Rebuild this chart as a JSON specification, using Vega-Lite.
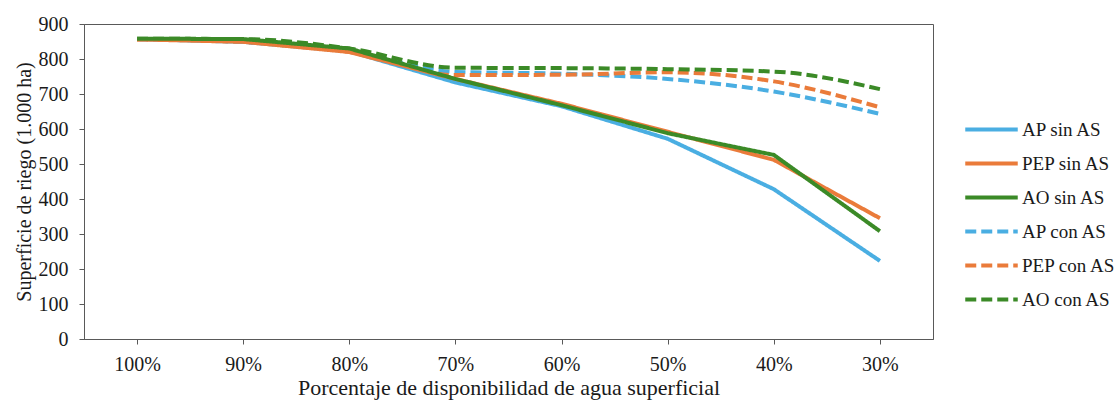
{
  "$schema": "https://vega.github.io/schema/vega-lite/v6.json",
  "width": 849,
  "height": 315,
  "autosize": {"type": "none"},
  "padding": {"left": 84, "top": 24, "right": 186, "bottom": 64},
  "background": "white",
  "config": {
    "font": "Liberation Serif",
    "view": {"stroke": "#595959", "strokeWidth": 1},
    "axis": {
      "labelFont": "Liberation Serif",
      "titleFont": "Liberation Serif",
      "labelFontSize": 20,
      "titleFontSize": 22,
      "titleFontWeight": "normal",
      "labelColor": "#1a1a1a",
      "titleColor": "#1a1a1a",
      "domainColor": "#595959",
      "tickColor": "#595959",
      "tickSize": 5,
      "grid": false
    },
    "legend": {
      "orient": "none",
      "legendX": 895,
      "legendY": 93,
      "padding": 0,
      "symbolType": "M-2.5,0H2.5",
      "symbolSize": 441,
      "symbolStrokeWidth": 4,
      "labelFont": "Liberation Serif",
      "labelFontSize": 19,
      "labelColor": "#1a1a1a",
      "labelOffset": 18,
      "rowPadding": 11,
      "labelLimit": 300
    }
  },
  "data": {
    "values": [
      {"serie": "AP sin AS", "disp": "100%", "sup": 857},
      {"serie": "AP sin AS", "disp": "90%", "sup": 849},
      {"serie": "AP sin AS", "disp": "80%", "sup": 822},
      {"serie": "AP sin AS", "disp": "70%", "sup": 733},
      {"serie": "AP sin AS", "disp": "60%", "sup": 665},
      {"serie": "AP sin AS", "disp": "50%", "sup": 572},
      {"serie": "AP sin AS", "disp": "40%", "sup": 428},
      {"serie": "AP sin AS", "disp": "30%", "sup": 223},
      {"serie": "PEP sin AS", "disp": "100%", "sup": 856},
      {"serie": "PEP sin AS", "disp": "90%", "sup": 849},
      {"serie": "PEP sin AS", "disp": "80%", "sup": 820},
      {"serie": "PEP sin AS", "disp": "70%", "sup": 743},
      {"serie": "PEP sin AS", "disp": "60%", "sup": 672},
      {"serie": "PEP sin AS", "disp": "50%", "sup": 592},
      {"serie": "PEP sin AS", "disp": "40%", "sup": 512},
      {"serie": "PEP sin AS", "disp": "30%", "sup": 345},
      {"serie": "AO sin AS", "disp": "100%", "sup": 858},
      {"serie": "AO sin AS", "disp": "90%", "sup": 857},
      {"serie": "AO sin AS", "disp": "80%", "sup": 830},
      {"serie": "AO sin AS", "disp": "70%", "sup": 743},
      {"serie": "AO sin AS", "disp": "60%", "sup": 668},
      {"serie": "AO sin AS", "disp": "50%", "sup": 588},
      {"serie": "AO sin AS", "disp": "40%", "sup": 526},
      {"serie": "AO sin AS", "disp": "30%", "sup": 308},
      {"serie": "AP con AS", "disp": "100%", "sup": 857},
      {"serie": "AP con AS", "disp": "90%", "sup": 849},
      {"serie": "AP con AS", "disp": "80%", "sup": 822},
      {"serie": "AP con AS", "disp": "70%", "sup": 763},
      {"serie": "AP con AS", "disp": "60%", "sup": 758},
      {"serie": "AP con AS", "disp": "50%", "sup": 743},
      {"serie": "AP con AS", "disp": "40%", "sup": 707},
      {"serie": "AP con AS", "disp": "30%", "sup": 643},
      {"serie": "PEP con AS", "disp": "100%", "sup": 856},
      {"serie": "PEP con AS", "disp": "90%", "sup": 849},
      {"serie": "PEP con AS", "disp": "80%", "sup": 820},
      {"serie": "PEP con AS", "disp": "70%", "sup": 754},
      {"serie": "PEP con AS", "disp": "60%", "sup": 755},
      {"serie": "PEP con AS", "disp": "50%", "sup": 762},
      {"serie": "PEP con AS", "disp": "40%", "sup": 736},
      {"serie": "PEP con AS", "disp": "30%", "sup": 662},
      {"serie": "AO con AS", "disp": "100%", "sup": 858},
      {"serie": "AO con AS", "disp": "90%", "sup": 857},
      {"serie": "AO con AS", "disp": "80%", "sup": 830},
      {"serie": "AO con AS", "disp": "70%", "sup": 775},
      {"serie": "AO con AS", "disp": "60%", "sup": 774},
      {"serie": "AO con AS", "disp": "50%", "sup": 771},
      {"serie": "AO con AS", "disp": "40%", "sup": 764},
      {"serie": "AO con AS", "disp": "30%", "sup": 714}
    ]
  },
  "encoding": {
    "x": {
      "field": "disp",
      "type": "ordinal",
      "scale": {"type": "point", "padding": 0.5, "domain": ["100%", "90%", "80%", "70%", "60%", "50%", "40%", "30%"]},
      "axis": {"title": "Porcentaje de disponibilidad de agua superficial", "labelAngle": 0, "labelPadding": 10, "titlePadding": 3}
    },
    "y": {
      "field": "sup",
      "type": "quantitative",
      "scale": {"domain": [0, 900], "nice": false},
      "axis": {"title": "Superficie de riego (1.000 ha)", "titleFontSize": 20, "values": [0, 100, 200, 300, 400, 500, 600, 700, 800, 900], "labelPadding": 11, "titlePadding": 4}
    },
    "color": {
      "field": "serie",
      "type": "nominal",
      "scale": {
        "domain": ["AP sin AS", "PEP sin AS", "AO sin AS", "AP con AS", "PEP con AS", "AO con AS"],
        "range": ["#4aaee2", "#ea7b3a", "#3b8a27", "#4aaee2", "#ea7b3a", "#3b8a27"]
      },
      "legend": {"title": null}
    },
    "strokeDash": {
      "field": "serie",
      "type": "nominal",
      "scale": {
        "domain": ["AP sin AS", "PEP sin AS", "AO sin AS", "AP con AS", "PEP con AS", "AO con AS"],
        "range": [[1, 0], [1, 0], [1, 0], [11, 5], [11, 5], [11, 5]]
      },
      "legend": {"title": null}
    }
  },
  "layer": [
    {
      "transform": [{"filter": "indexof(datum.serie, 'con') >= 0"}],
      "mark": {"type": "line", "strokeWidth": 4, "interpolate": "monotone"}
    },
    {
      "transform": [{"filter": "indexof(datum.serie, 'sin') >= 0"}],
      "mark": {"type": "line", "strokeWidth": 4}
    }
  ]
}
